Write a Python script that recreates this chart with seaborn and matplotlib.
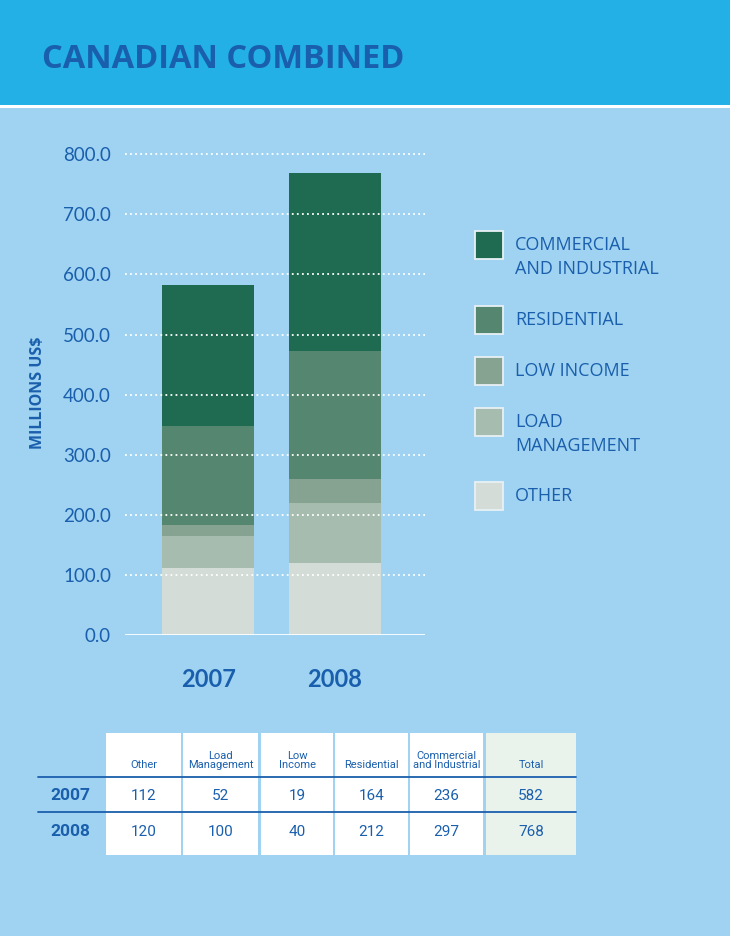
import matplotlib
matplotlib.use("Agg")
import matplotlib.pyplot as plt
from matplotlib.patches import Rectangle
import numpy as np
import pandas as pd
import seaborn as sns

# ---- data -------------------------------------------------------------
years = ["2007", "2008"]
categories = ["Other", "Load Management", "Low Income", "Residential",
              "Commercial and Industrial"]
other = [112, 120]
load_management = [52, 100]
low_income = [19, 40]
residential = [164, 212]
commercial_industrial = [236, 297]
totals = [582, 768]

legend_labels = ["COMMERCIAL\nAND INDUSTRIAL", "RESIDENTIAL", "LOW INCOME",
                 "LOAD\nMANAGEMENT", "OTHER"]
table_headers = ["Other", "Load\nManagement", "Low\nIncome", "Residential",
                 "Commercial\nand Industrial", "Total"]
y_ticks = [0, 100, 200, 300, 400, 500, 600, 700, 800]

# ---- styling ----------------------------------------------------------
BANNER = "#22B0E6"
BG = "#A0D3F1"
BLUE = "#1A5FAD"
colors = {
    "Other": "#D3DCD6",
    "Load Management": "#A5BCAE",
    "Low Income": "#86A391",
    "Residential": "#55866F",
    "Commercial and Industrial": "#1E6B52",
}

sns.set_theme(style="white")
plt.rcParams["font.family"] = ["Open Sans", "DejaVu Sans"]

W, H = 730, 936
fig = plt.figure(figsize=(W / 100, H / 100), dpi=100)
fig.patch.set_facecolor(BG)


def fx(x):
    return x / W


def fy(y):
    return 1 - y / H


def rect(x0, y0, x1, y1, color, z=0):
    fig.patches.append(Rectangle((fx(x0), fy(y1)), fx(x1) - fx(x0),
                                 fy(y0) - fy(y1), transform=fig.transFigure,
                                 facecolor=color, edgecolor="none", zorder=z))


# header banner
rect(0, 0, W, 105, BANNER)
rect(0, 105, W, 108, "white")
fig.text(fx(42), fy(60), "CANADIAN COMBINED", color=BLUE, fontsize=23.5,
         fontweight="bold", va="center", ha="left")

# ---- stacked bar chart -----------------------------------------------
df = pd.DataFrame({
    "year": years,
    "Other": other,
    "Load Management": load_management,
    "Low Income": low_income,
    "Residential": residential,
    "Commercial and Industrial": commercial_industrial,
})
stack = df.set_index("year")[categories].cumsum(axis=1)

ax = fig.add_axes([fx(125), fy(635), fx(425) - fx(125), fy(150) - fy(635)])
ax.set_facecolor("none")
for cat in reversed(categories):
    sns.barplot(x=stack.index, y=stack[cat].values, color=colors[cat],
                width=0.72, saturation=1, ax=ax, zorder=2,
                linewidth=0, edgecolor="none")

ax.set_xlim(-0.655, 1.71)
ax.set_ylim(0, 807)
for t in y_ticks[1:]:
    ax.axhline(t, color="white", lw=1.3, ls=(0, (1, 1.8)), zorder=3)
ax.axhline(0, color="white", lw=2, zorder=3)
for s in ax.spines.values():
    s.set_visible(False)
ax.set_yticks(y_ticks)
ax.set_yticklabels([f"{v:.1f}" for v in y_ticks], color=BLUE, fontsize=13.5,
                   family=["Lato", "DejaVu Sans"])
ax.tick_params(axis="y", length=0, pad=10)
ax.set_xticks([0, 1])
ax.set_xticklabels(years, color=BLUE, fontsize=17, fontweight="bold",
                   family=["Lato", "DejaVu Sans"])
ax.tick_params(axis="x", length=0, pad=24)
ax.set_xlabel("")
ax.set_ylabel("MILLIONS US$", color=BLUE, fontsize=11.5, fontweight="bold",
              labelpad=12)

# ---- legend ------------------------------------------------------------
legend_cats = list(reversed(categories))
legend_y = [245, 320, 371, 422, 496]
for cat, lab, yc in zip(legend_cats, legend_labels, legend_y):
    fig.patches.append(Rectangle((fx(475), fy(yc + 14)), fx(28), 28 / H,
                                 transform=fig.transFigure,
                                 facecolor=colors[cat], edgecolor="#E8F0F4",
                                 lw=1.3))
    fig.text(fx(515), fy(yc - 9), lab, color=BLUE, fontsize=13,
             va="top", ha="left", linespacing=1.4)

# ---- data table --------------------------------------------------------
col_x = [(106, 181), (183, 258), (261, 333), (335, 408), (410, 483),
         (486, 576)]
top, hdr_bot, r1_bot, r2_bot = 733, 776, 811, 855
for i, (x0, x1) in enumerate(col_x):
    rect(x0, top, x1, r2_bot, "#EAF3EB" if i == 5 else "white", z=1)
for yl in (777, 812):
    fig.lines.append(plt.Line2D([fx(38), fx(576)], [fy(yl), fy(yl)],
                                transform=fig.transFigure, color=BLUE,
                                lw=1.3, zorder=2))

narrow = ["Roboto", "DejaVu Sans"]
for (x0, x1), h in zip(col_x, table_headers):
    fig.text(fx((x0 + x1) / 2), fy(770), h, color=BLUE, fontsize=8,
             ha="center", va="bottom", linespacing=0.9, family=narrow,
             zorder=3)

rows = [other, load_management, low_income, residential,
        commercial_industrial, totals]
for r, (yr, yc) in enumerate(zip(years, (796, 832))):
    fig.text(fx(70), fy(yc), yr, color=BLUE, fontsize=12.5, fontweight="bold",
             ha="center", va="center", family=narrow, zorder=3)
    for (x0, x1), vals in zip(col_x, rows):
        fig.text(fx((x0 + x1) / 2), fy(yc), str(vals[r]), color=BLUE,
                 fontsize=11, ha="center", va="center", family=narrow,
                 zorder=3)

fig.savefig("out.png", dpi=100, facecolor=fig.get_facecolor())
